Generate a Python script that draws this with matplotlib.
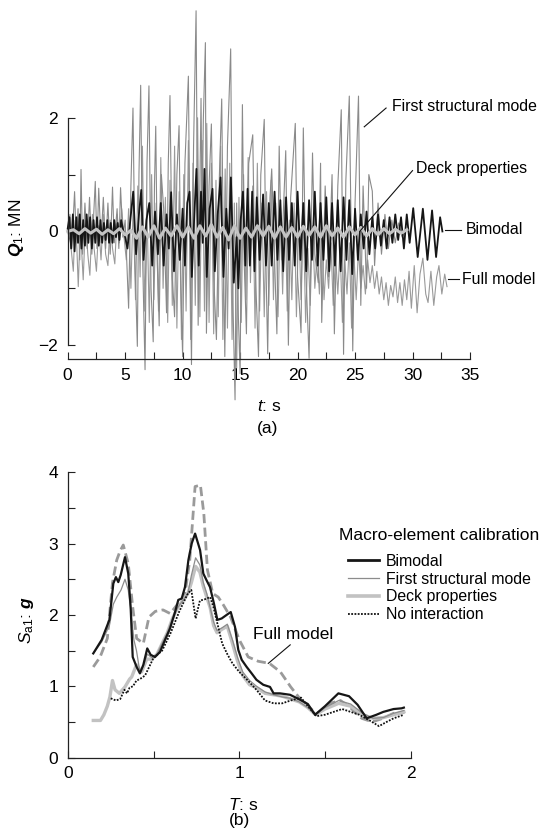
import numpy as np
import matplotlib
matplotlib.use("Agg")
import matplotlib.pyplot as plt
from matplotlib.lines import Line2D

plt.rcParams['font.family'] = 'Liberation Sans'
plt.rcParams['mathtext.fontset'] = 'custom'
plt.rcParams['mathtext.rm'] = 'Liberation Sans'
plt.rcParams['mathtext.it'] = 'Liberation Sans:italic'
plt.rcParams['mathtext.bf'] = 'Liberation Sans:bold'
plt.rcParams['mathtext.bfit'] = 'Liberation Sans:italic:bold'

# ---- (a) time histories of Q1 (MN) ----
fsm_t = [0.0, 0.2, 0.35, 0.6, 0.75, 0.9, 1.05, 1.16, 1.3, 1.5, 1.7, 1.9, 2.1, 2.4, 2.55, 2.7, 2.9, 3.1, 3.3, 3.5,
         3.7, 3.9, 4.05, 4.3, 4.45, 4.6, 4.8, 5.0, 5.15, 5.3, 5.5, 5.68, 5.85, 6.06, 6.2, 6.35, 6.5, 6.73, 6.9, 7.07,
         7.25, 7.44, 7.55, 7.66, 7.8, 7.96, 8.15, 8.35, 8.6, 8.75, 8.9, 9.1, 9.3, 9.5, 9.69, 9.85, 10.0, 10.2, 10.5, 10.65,
         10.77, 10.95, 11.17, 11.35, 11.6, 11.7, 11.8, 11.98, 12.07, 12.3, 12.5, 12.7, 12.94, 13.2, 13.4, 13.55, 13.67, 13.9, 14.18, 14.35,
         14.56, 14.7, 14.85, 15.0, 15.2, 15.35, 15.55, 15.75, 16.1, 16.25, 16.6, 16.8, 17.1, 17.25, 17.4, 17.6, 17.75, 18.0, 18.2, 18.4,
         18.6, 18.97, 19.2, 19.4, 19.8, 20.0, 20.3, 20.5, 20.7, 21.0, 21.3, 21.5, 21.8, 22.0, 22.1, 22.4, 22.7, 23.0, 23.2, 23.5,
         23.8, 24.0, 24.2, 24.5, 24.8, 25.0, 25.3, 25.5, 25.7, 26.0, 26.2, 26.5, 26.7, 27.0, 27.3, 27.6, 27.9, 28.2, 28.5, 28.8,
         29.1, 29.5]
fsm_q = [0.0, 0.3, -0.3, 0.7, -0.2, 0.4, -0.5, 1.09, -0.4, 0.5, -0.3, 0.6, -0.4, 0.88, -0.3, 0.76, -0.2, 0.6, -0.3, 0.5,
         -0.4, 0.78, -0.2, 0.4, -0.3, 0.77, -0.1, 0.2, -0.6, -1.35, 0.8, 2.17, -0.5, -2.02, 1.0, 2.57, -0.3, -2.43, 1.2, 2.56,
         -1.0, -1.94, 0.8, 1.85, -0.6, -1.66, 1.0, 0.4, -1.43, 1.2, 2.39, -0.8, -1.5, 1.0, 1.86, -1.0, -2.2, 1.2, 2.73, -0.5,
         -2.34, 1.5, 3.88, -1.65, 2.34, 0.2, 1.96, 3.32, -1.79, 0.8, 1.89, -0.8, -1.9, 1.0, 2.33, -0.5, -2.2, 1.5, 3.21, -1.0,
         -2.96, 0.5, -1.5, -2.5, 2.23, -0.5, -1.8, 1.2, 1.7, -0.3, -2.2, 1.0, 1.97, -0.6, -2.15, 0.6, 1.1, -0.5, -1.8, 1.5,
         -0.5, 1.42, -2.0, 0.6, 1.9, -0.8, -1.78, 1.82, -0.6, -2.23, 1.38, -0.4, -0.9, 1.2, -1.6, 0.8, -0.8, 1.0, -1.8, 0.8,
         2.14, -2.16, 0.9, 2.38, -2.1, 0.5, 2.38, -1.3, 0.8, -1.0, 1.0, 0.71, -0.6, 0.5, -0.4, 0.3, -0.3, 0.2, -0.2, 0.15,
         -0.1, 0.05]

full_t = [0.0, 0.25, 0.49, 0.65, 0.8, 0.92, 1.1, 1.35, 1.55, 1.75, 1.93, 2.15, 2.3, 2.5, 2.7, 2.9, 3.1, 3.3, 3.5, 3.7,
          3.9, 4.1, 4.3, 4.5, 4.7, 4.9, 5.1, 5.3, 5.5, 5.7, 5.9, 6.1, 6.3, 6.5, 6.7, 6.9, 7.1, 7.3, 7.5, 7.7,
          7.9, 8.1, 8.3, 8.5, 8.7, 8.9, 9.1, 9.3, 9.5, 9.7, 9.9, 10.1, 10.3, 10.5, 10.7, 10.9, 11.1, 11.3, 11.5, 11.7,
          11.9, 12.1, 12.3, 12.5, 12.7, 12.9, 13.1, 13.3, 13.5, 13.7, 13.9, 14.1, 14.3, 14.5, 14.7, 14.9, 15.1, 15.3, 15.5, 15.7,
          15.9, 16.1, 16.3, 16.5, 16.7, 16.9, 17.1, 17.3, 17.5, 17.7, 17.9, 18.1, 18.3, 18.5, 18.7, 18.9, 19.1, 19.3, 19.5, 19.7,
          19.9, 20.1, 20.3, 20.5, 20.7, 20.9, 21.1, 21.3, 21.5, 21.7, 21.9, 22.1, 22.3, 22.5, 22.7, 22.9, 23.1, 23.3, 23.5, 23.7,
          23.9, 24.1, 24.3, 24.5, 24.7, 24.9, 25.1, 25.3, 25.5, 25.7, 25.9, 26.1, 26.3, 26.5, 26.7, 26.9, 27.1, 27.3, 27.5, 27.7,
          27.9, 28.1, 28.3, 28.5, 28.7, 28.9, 29.1, 29.3, 29.5, 29.7, 29.9, 30.15, 30.4, 30.65, 30.9, 31.15, 31.35, 31.6, 31.85, 32.1,
          32.3, 32.55, 32.8, 33.0]
full_q = [0.0, -0.2, -0.7, 0.2, -0.3, -0.97, 0.1, -0.85, 0.2, -0.4, -0.77, 0.3, -0.3, -0.7, 0.1, -0.5, 0.3, -0.4, -0.6, 0.2,
          -0.3, -0.57, 0.3, -0.2, 0.4, -0.1, -0.5, 0.4, -1.0, 0.5, -1.2, 0.8, -0.8, 1.5, -1.4, 0.4, -1.6, 1.0, -1.2, 0.5,
          -1.4, 1.3, -1.0, 0.6, -1.6, 0.9, -1.3, 1.5, -1.7, 0.7, -1.9, 1.0, -1.4, 1.6, -1.9, 1.2, -1.3, 2.0, -1.5, 1.6,
          -1.4, 1.9, -1.6, 1.2, -1.8, 0.9, -1.5, 1.5, -1.9, 1.1, -1.7, 1.2, -1.9, 0.5, -2.4, 0.6, -1.6, 1.0, -1.2, 1.3,
          -0.9, 0.8, -1.7, 1.2, -1.4, 0.5, -1.5, 0.7, -1.3, 0.9, -1.2, 0.5, -1.5, 0.4, -1.1, 0.6, -1.4, 0.2, -1.2, 0.5,
          -1.5, 0.2, -1.2, 0.3, -1.6, -0.3, -1.3, 0.1, -1.0, -0.4, -1.1, 0.0, -1.2, -0.5, -1.0, -0.2, -1.3, -0.4, -1.1, -0.3,
          -1.6, -0.5, -1.1, -0.2, -1.7, -0.4, -1.2, -0.3, -1.0, -0.6, -1.1, -0.5, -0.9, -0.6, -1.0, -0.7, -1.1, -0.8, -1.2, -0.9,
          -1.3, -0.95, -1.15, -0.8, -1.25, -0.9, -1.3, -0.85, -1.2, -0.7, -1.35, -0.6, -1.43, -0.75, -0.47, -1.1, -1.25, -0.7, -1.3, -0.8,
          -0.6, -1.1, -0.75, -0.97]

bim_t = [0.0, 0.15, 0.3, 0.45, 0.6, 0.75, 0.9, 1.05, 1.2, 1.35, 1.5, 1.65, 1.8, 1.95, 2.1, 2.25, 2.4, 2.55, 2.7, 2.85,
         3.0, 3.15, 3.3, 3.45, 3.6, 3.75, 3.9, 4.05, 4.2, 4.35, 4.5, 4.65, 4.8, 5.0, 5.2, 5.45, 5.7, 5.95, 6.2, 6.4,
         6.6, 6.85, 7.1, 7.35, 7.6, 7.85, 8.1, 8.35, 8.6, 8.8, 9.0, 9.25, 9.5, 9.75, 10.0, 10.2, 10.4, 10.6, 10.8, 11.0,
         11.2, 11.4, 11.6, 11.75, 11.9, 12.1, 12.35, 12.6, 12.8, 13.05, 13.3, 13.55, 13.8, 14.0, 14.2, 14.45, 14.7, 14.85, 15.05, 15.25,
         15.45, 15.65, 15.85, 16.05, 16.25, 16.45, 16.7, 17.0, 17.25, 17.5, 17.75, 18.0, 18.25, 18.5, 18.75, 19.0, 19.25, 19.5, 19.75, 20.0,
         20.25, 20.5, 20.75, 21.0, 21.25, 21.5, 21.75, 22.0, 22.25, 22.5, 22.75, 23.0, 23.25, 23.5, 23.75, 24.0, 24.25, 24.5, 24.75, 25.0,
         25.25, 25.5, 25.75, 26.0, 26.25, 26.5, 26.75, 27.0, 27.25, 27.5, 27.75, 28.0, 28.25, 28.5, 28.75, 29.0, 29.25, 29.5, 29.75, 30.06,
         30.45, 30.9, 31.3, 31.7, 32.05, 32.4, 32.6]
bim_q = [0.05, 0.25, -0.3, 0.3, -0.35, 0.25, -0.2, 0.3, -0.3, 0.2, -0.25, 0.3, -0.2, 0.25, -0.3, 0.2, -0.2, 0.25, -0.25, 0.2,
         -0.2, 0.15, -0.15, 0.2, -0.2, 0.15, -0.2, 0.2, -0.1, 0.15, -0.15, 0.2, 0.05, -0.1, -0.3, 0.2, 0.7, -0.4, 0.3, 0.73,
         -0.5, 0.2, 0.5, -0.6, 0.35, -0.4, 0.5, -0.6, 0.3, -0.3, 0.69, -0.7, 0.3, -0.5, 0.4, -0.6, 0.5, 0.7, -0.8, 0.2,
         1.1, -0.6, 0.7, -0.2, 1.1, -0.8, 0.4, 0.75, -0.7, 0.3, 0.95, -0.8, 0.4, -0.3, 0.95, -0.9, -0.1, -1.0, 0.2, 0.7,
         -0.6, 0.75, -0.6, 0.7, -0.7, 0.6, -0.5, 0.65, -0.6, 0.5, -0.6, 0.7, -0.5, 0.55, -0.7, 0.6, -0.5, 0.5, -0.6, 0.7,
         -0.5, 0.5, -0.7, 0.55, -0.5, 0.7, -0.6, 0.5, -0.5, 0.6, -0.7, 0.5, -0.6, 0.55, -0.7, 0.6, -0.5, 0.55, -0.75, 0.4,
         -0.5, 0.3, -0.3, 0.35, -0.4, 0.25, -0.3, 0.3, -0.25, 0.2, -0.3, 0.25, -0.2, 0.3, -0.15, 0.25, -0.3, 0.3, -0.2, 0.41,
         -0.45, 0.4, -0.5, 0.37, -0.45, 0.25, 0.0]

deck_t = np.arange(0, 30, 0.5)
deck_q = [0.0, 0.03, -0.04, 0.05, -0.03, 0.04, -0.05, 0.03, -0.04, 0.05, -0.06,
          0.02, -0.12, 0.08, -0.1, 0.1, -0.12, 0.06, -0.08, 0.1, -0.1,
          0.08, -0.12, 0.1, -0.08, 0.12, -0.1, 0.07, -0.15, 0.1, -0.12,
          0.06, -0.1, 0.1, -0.08, 0.09, -0.12, 0.08, -0.1, 0.07, -0.1,
          0.09, -0.07, 0.08, -0.1, 0.1, -0.08, 0.06, -0.1, 0.08, -0.06,
          0.07, -0.08, 0.05, -0.06, 0.05, -0.04, 0.04, -0.03, 0.03]

# ---- (b) response spectra Sa1 (g) ----
bim_T = [0.148, 0.197, 0.242, 0.265, 0.28, 0.294, 0.308, 0.333, 0.352, 0.366, 0.378, 0.401, 0.42, 0.44, 0.463, 0.483,
         0.508, 0.537, 0.567, 0.596, 0.625, 0.644, 0.664, 0.683, 0.703, 0.722, 0.742, 0.771, 0.79, 0.81, 0.829, 0.852,
         0.872, 0.897, 0.926, 0.95, 0.975, 0.994, 1.014, 1.043, 1.072, 1.10, 1.14, 1.179, 1.20, 1.237, 1.296, 1.355,
         1.40, 1.442, 1.50, 1.578, 1.64, 1.69, 1.743, 1.80, 1.84, 1.90, 1.947, 1.96]
bim_S = [1.46, 1.65, 1.93, 2.44, 2.53, 2.46, 2.56, 2.81, 2.58, 2.11, 1.41, 1.27, 1.18, 1.30, 1.53, 1.44,
         1.41, 1.48, 1.65, 1.81, 2.04, 2.21, 2.23, 2.39, 2.77, 3.0, 3.14, 2.91, 2.58, 2.48, 2.39, 2.16,
         1.93, 1.95, 2.0, 2.04, 1.83, 1.51, 1.37, 1.27, 1.18, 1.09, 1.02, 0.99, 0.90, 0.90, 0.88, 0.81,
         0.75, 0.60, 0.72, 0.90, 0.86, 0.74, 0.55, 0.60, 0.64, 0.68, 0.69, 0.70]

fsm_T = [0.148, 0.197, 0.242, 0.265, 0.285, 0.31, 0.333, 0.352, 0.37, 0.385, 0.40, 0.42, 0.44, 0.463, 0.49, 0.52,
         0.55, 0.58, 0.61, 0.64, 0.67, 0.70, 0.72, 0.745, 0.77, 0.79, 0.81, 0.83, 0.85, 0.87, 0.90, 0.93,
         0.96, 0.99, 1.02, 1.06, 1.10, 1.15, 1.2, 1.25, 1.3, 1.35, 1.40, 1.445, 1.5, 1.58, 1.65, 1.72,
         1.78, 1.84, 1.9, 1.96]
fsm_S = [1.46, 1.62, 1.85, 2.15, 2.25, 2.35, 2.50, 2.35, 2.0, 1.65, 1.5, 1.2, 1.28, 1.45, 1.4, 1.45,
         1.6, 1.75, 1.95, 2.1, 2.2, 2.3, 2.55, 2.80, 2.70, 2.45, 2.3, 2.1, 1.9, 1.78, 1.82, 1.87,
         1.65, 1.4, 1.2, 1.08, 1.0, 0.92, 0.88, 0.85, 0.83, 0.78, 0.7, 0.6, 0.7, 0.8, 0.75, 0.62,
         0.55, 0.56, 0.62, 0.66]

deck_T = [0.148, 0.19, 0.21, 0.23, 0.245, 0.26, 0.275, 0.30, 0.333, 0.36, 0.372, 0.40, 0.43, 0.46, 0.49, 0.52,
          0.55, 0.58, 0.61, 0.64, 0.67, 0.70, 0.72, 0.745, 0.77, 0.79, 0.81, 0.83, 0.85, 0.87, 0.90, 0.93,
          0.96, 0.99, 1.02, 1.06, 1.10, 1.15, 1.2, 1.25, 1.3, 1.35, 1.40, 1.445, 1.5, 1.58, 1.65, 1.72,
          1.78, 1.84, 1.9, 1.96]
deck_S = [0.52, 0.52, 0.6, 0.72, 0.85, 1.08, 0.95, 0.9, 0.99, 1.1, 1.13, 1.3, 1.2, 1.38, 1.38, 1.45,
          1.6, 1.75, 1.95, 2.1, 2.2, 2.3, 2.45, 2.68, 2.6, 2.4, 2.25, 2.1, 1.85, 1.75, 1.8, 1.84,
          1.6, 1.35, 1.15, 1.02, 0.98, 0.9, 0.88, 0.86, 0.82, 0.78, 0.7, 0.6, 0.68, 0.76, 0.72, 0.6,
          0.55, 0.56, 0.6, 0.64]

full_T = [0.148, 0.188, 0.23, 0.26, 0.285, 0.305, 0.323, 0.352, 0.378, 0.401, 0.44, 0.473, 0.51, 0.555, 0.596,
          0.637, 0.68, 0.711, 0.742, 0.773, 0.793, 0.814, 0.845, 0.877, 0.907, 0.949, 1.0, 1.052, 1.11, 1.176,
          1.24, 1.30, 1.362, 1.424, 1.456, 1.49, 1.528, 1.59, 1.652, 1.714, 1.776, 1.838, 1.9, 1.963]
full_S = [1.27, 1.41, 1.67, 2.45, 2.77, 2.9, 2.98, 2.72, 2.11, 1.67, 1.6, 1.97, 2.05, 2.07, 2.02,
          2.14, 2.25, 2.77, 3.8, 3.82, 3.42, 2.63, 2.3, 2.25, 2.14, 1.97, 1.65, 1.41, 1.35, 1.32,
          1.2, 0.99, 0.8, 0.67, 0.62, 0.68, 0.76, 0.8, 0.69, 0.55, 0.50, 0.55, 0.62, 0.63]

noi_T = [0.25, 0.28, 0.305, 0.33, 0.345, 0.36, 0.38, 0.40, 0.42, 0.45, 0.48, 0.5, 0.55, 0.6, 0.65, 0.68,
         0.70, 0.72, 0.745, 0.77, 0.80, 0.83, 0.85, 0.88, 0.90, 0.93, 0.96, 1.0, 1.05, 1.1, 1.15, 1.2,
         1.25, 1.3, 1.36, 1.40, 1.45, 1.5, 1.6, 1.7, 1.76, 1.815, 1.86, 1.9, 1.96]
noi_S = [0.83, 0.8, 0.82, 0.95, 0.9, 0.98, 1.0, 1.08, 1.1, 1.15, 1.3, 1.4, 1.5, 1.75, 2.05, 2.2,
         2.3, 2.35, 1.95, 2.2, 2.22, 2.25, 2.1, 1.8, 1.6, 1.45, 1.32, 1.2, 1.08, 0.95, 0.8, 0.76,
         0.76, 0.8, 0.84, 0.72, 0.58, 0.6, 0.68, 0.6, 0.52, 0.44, 0.5, 0.55, 0.6]

fig = plt.figure(figsize=(5.53, 8.39), dpi=100)

def style_axes(ax, ybounds, xbounds):
    for s in ['top', 'right']:
        ax.spines[s].set_visible(False)
    ax.spines['left'].set_bounds(*ybounds)
    ax.spines['bottom'].set_bounds(*xbounds)
    for s in ['left', 'bottom']:
        ax.spines[s].set_linewidth(0.9)
        ax.spines[s].set_color('#222222')
    ax.tick_params(which='both', direction='in', width=0.8, color='#222222', labelsize=12.5)
    ax.tick_params(which='both', length=5)
    ax.tick_params(axis='y', pad=7)
    ax.tick_params(axis='x', pad=6)

# top panel
ax1 = fig.add_axes([0.1224, 0.5716, 0.7275, 0.2881])
ax1.plot(full_t, full_q, color='#9a9a9a', lw=0.8, clip_on=False)
ax1.plot(fsm_t, fsm_q, color='#8a8a8a', lw=0.8, clip_on=False)
ax1.plot(bim_t, bim_q, color='#161616', lw=1.3, clip_on=False)
ax1.plot(deck_t, deck_q, color='#c4c4c4', lw=2.2, clip_on=False)
ax1.set_xlim(0, 35)
ax1.set_ylim(-2.25, 2)
ax1.set_xticks(range(0, 36, 5))
ax1.set_xticks(np.arange(2.5, 35, 5), minor=True)
ax1.set_yticks([-2, 0, 2])
ax1.set_yticks([-1, 1], minor=True)
style_axes(ax1, (-2, 2), (0, 35))

lead = dict(color='#111111', lw=0.8, clip_on=False)
txt = dict(fontsize=11.4, va='center', ha='left', clip_on=False)
ax1.plot([25.8, 27.7], [1.84, 2.17], **lead)
ax1.text(28.2, 2.19, 'First structural mode', **txt)
ax1.plot([25.4, 30.0], [0.0, 1.07], **lead)
ax1.text(30.3, 1.1, 'Deck properties', **txt)
ax1.plot([32.8, 34.2], [0.03, 0.03], **lead)
ax1.text(34.6, 0.03, 'Bimodal', **txt)
ax1.plot([33.1, 34.0], [-0.84, -0.84], **lead)
ax1.text(34.3, -0.85, 'Full model', **txt)

fig.text(16 / 553, 1 - 228 / 839, r'$\mathbfit{Q}_{1}$: MN', rotation=90, ha='center', va='center', fontsize=12.5)
fig.text(269 / 553, 1 - 407 / 839, r'$t$: s', ha='center', va='center', fontsize=12.5)
fig.text(268 / 553, 1 - 428 / 839, '(a)', ha='center', va='center', fontsize=12.5)

# bottom panel
ax2 = fig.add_axes([0.1228, 0.0971, 0.6199, 0.3400])
ax2.plot(full_T, full_S, color='#9a9a9a', lw=2.0, dashes=(3.3, 1.6))
ax2.plot(deck_T, deck_S, color='#c2c2c2', lw=2.4)
ax2.plot(fsm_T, fsm_S, color='#8c8c8c', lw=0.9)
ax2.plot(noi_T, noi_S, color='#111111', lw=1.3, dashes=(1, 0.8))
ax2.plot(bim_T, bim_S, color='#161616', lw=1.6)
ax2.set_xlim(0, 2)
ax2.set_ylim(0, 4)
ax2.set_xticks([0, 1, 2])
ax2.set_xticks([0.5, 1.5], minor=True)
ax2.set_yticks([0, 1, 2, 3, 4])
ax2.set_yticks(np.arange(0.5, 4, 1), minor=True)
style_axes(ax2, (0, 4), (0, 2))

ax2.plot([1.169, 1.297], [1.32, 1.58], color='#111111', lw=0.8)
ax2.text(1.08, 1.72, 'Full model', fontsize=12.5, va='center', ha='left')

handles = [Line2D([], [], color='#161616', lw=2.0),
           Line2D([], [], color='#8c8c8c', lw=0.9),
           Line2D([], [], color='#c2c2c2', lw=2.6),
           Line2D([], [], color='#111111', lw=1.3, dashes=(1, 0.8))]
labels = ['Bimodal', 'First structural mode', 'Deck properties', 'No interaction']
fig.legend(handles, labels, loc='upper left', bbox_to_anchor=(348 / 553, 1 - 554 / 839),
           frameon=False, fontsize=11.4, borderpad=0, borderaxespad=0, handlelength=1.96,
           handletextpad=0.42, labelspacing=0.17)
fig.text(338.7 / 553, 1 - 535 / 839, 'Macro-element calibration', ha='left', va='center', fontsize=12.5)

fig.text(26 / 553, 1 - 620 / 839, r'$S_{\mathrm{a1}}$: $\mathbfit{g}$', rotation=90, ha='center', va='center', fontsize=12.5)
fig.text(243 / 553, 1 - 805 / 839, r'$T$: s', ha='center', va='center', fontsize=12.5)
fig.text(239 / 553, 1 - 820 / 839, '(b)', ha='center', va='center', fontsize=12.5)

fig.savefig('out.png', dpi=100)
